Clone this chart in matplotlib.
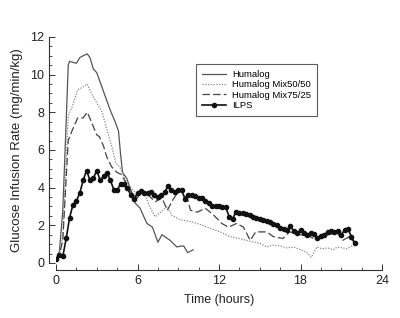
import numpy as np
import matplotlib
matplotlib.use('Agg')
import matplotlib.pyplot as plt
from matplotlib.ticker import MultipleLocator

plt.rcParams['font.family'] = ['Liberation Sans', 'DejaVu Sans']

# Humalog (solid)
hum_t = [0.0, 0.25, 0.5, 0.75, 0.9, 1.0, 1.25, 1.5, 1.75, 2.0, 2.3, 2.5, 2.75, 3.0, 3.5, 4.0,
         4.35, 4.6, 4.75, 4.9, 5.2, 5.5, 5.8, 6.2, 6.5, 6.7, 7.1, 7.5, 7.8, 8.1, 8.4, 8.9,
         9.2, 9.4, 9.7, 10.1]
hum_v = [0.2, 0.6, 2.8, 7.5, 10.5, 10.7, 10.65, 10.6, 10.9, 11.0, 11.1, 10.9, 10.3, 10.1, 9.1, 8.1,
         7.5, 7.0, 5.8, 4.8, 4.5, 3.9, 3.2, 2.9, 2.4, 2.1, 1.9, 1.1, 1.5, 1.35, 1.2, 0.85,
         0.9, 0.9, 0.55, 0.7]

# Humalog Mix50/50 (dotted)
mix50_t = [0, 0.25, 0.5, 0.75, 0.9, 1.2, 1.6, 1.9, 2.3, 2.6, 3.0, 3.4, 3.7, 4.1, 4.4, 4.7, 5.1,
           5.5, 6.0, 6.4, 6.9, 7.3, 7.7, 8.2, 8.5, 9.1, 9.9, 10.6, 11.3, 12.1, 12.8, 13.5,
           14.3, 15.0, 15.5, 16.0, 16.5, 17.0, 17.5, 18.0, 18.4, 18.8, 19.2, 19.6, 20.0,
           20.4, 20.7, 21.1, 21.4, 21.9]
mix50_v = [0.2, 0.4, 1.5, 5.5, 7.8, 8.3, 9.2, 9.3, 9.5, 9.0, 8.5, 8.0, 7.2, 6.2, 5.3, 5.1, 4.4,
           4.0, 3.6, 3.9, 3.0, 2.45, 2.7, 3.0, 2.55, 2.3, 2.2, 2.05, 1.85, 1.65, 1.4, 1.3,
           1.15, 1.05, 0.85, 0.95, 0.9, 0.8, 0.85, 0.7, 0.6, 0.3, 0.85, 0.75, 0.8,
           0.7, 0.85, 0.8, 0.75, 0.95]

# Humalog Mix75/25 (dashed)
mix75_t = [0, 0.25, 0.5, 0.75, 0.9, 1.2, 1.6, 2.0, 2.3, 2.6, 3.0, 3.2, 3.5, 3.75, 4.1, 4.5, 4.8,
           5.2, 5.6, 6.0, 6.3, 6.8, 7.3, 7.8, 8.2, 8.6, 9.1, 9.7, 9.9, 10.4, 11.0, 11.6,
           12.2, 12.7, 13.3, 13.8, 14.3, 14.7, 15.5, 16.0, 16.7, 17.2, 18.0, 18.7, 19.2,
           20.0, 20.7, 21.1, 21.6, 22.0]
mix75_v = [0.2, 0.4, 1.2, 4.5, 6.5, 7.05, 7.7, 7.7, 8.0, 7.5, 6.8, 6.7, 6.2, 5.6, 5.1, 4.8, 4.7,
           4.2, 3.7, 3.45, 3.9, 3.6, 3.25, 3.45, 2.8, 3.35, 3.9, 3.35, 2.8, 2.7, 2.9, 2.55,
           2.1, 1.9, 2.1, 1.9, 1.2, 1.65, 1.65, 1.4, 1.3, 1.65, 1.5, 1.4, 1.2,
           1.5, 1.6, 1.2, 1.4, 1.05]

# ILPS (every 15 min, 0 - 22 h)
ilps_v = [0.2, 0.4, 0.35, 1.3, 2.4, 3.1, 3.3, 3.7, 4.4, 4.9, 4.4, 4.5, 4.9, 4.4, 4.6, 4.8,
          4.4, 3.9, 3.85, 4.2, 4.2, 4.0, 3.6, 3.4, 3.7, 3.8, 3.7, 3.7, 3.75, 3.6, 3.5, 3.6,
          3.75, 4.1, 3.9, 3.75, 3.9, 3.85, 3.4, 3.6, 3.6, 3.55, 3.45, 3.45, 3.3, 3.2, 3.05, 3.0,
          3.0, 2.95, 2.95, 2.45, 2.35, 2.7, 2.65, 2.65, 2.6, 2.55, 2.45, 2.4, 2.35, 2.3, 2.25, 2.2,
          2.05, 2.0, 1.85, 1.8, 1.75, 1.95, 1.7, 1.6, 1.75, 1.6, 1.5, 1.6, 1.55, 1.3, 1.45, 1.5,
          1.65, 1.7, 1.65, 1.7, 1.5, 1.75, 1.8, 1.4, 1.05]
ilps_t = np.arange(len(ilps_v)) * 0.25

fig = plt.figure(figsize=(4.0, 3.18), dpi=100)
ax = fig.add_axes([0.14, 0.173, 0.815, 0.711])

ax.plot(hum_t, hum_v, color='#555555', lw=0.9, ls='-', label='Humalog')
ax.plot(mix50_t, mix50_v, color='#888888', lw=0.9, ls=(0, (1, 1.2)), label='Humalog Mix50/50')
ax.plot(mix75_t, mix75_v, color='#444444', lw=0.9, ls=(0, (6, 2.5)), label='Humalog Mix75/25')
ax.plot(ilps_t, ilps_v, color='#111111', lw=1.2, marker='o', ms=3.0, label='ILPS')

ax.set_xlim(0, 24)
ax.set_ylim(0, 12)
ax.xaxis.set_major_locator(MultipleLocator(6))
ax.xaxis.set_minor_locator(MultipleLocator(1.5))
ax.yaxis.set_major_locator(MultipleLocator(2))
ax.yaxis.set_minor_locator(MultipleLocator(0.5))

for s in ['top', 'right']:
    ax.spines[s].set_visible(False)
ax.spines['left'].set_position(('outward', 5))
ax.spines['bottom'].set_position(('outward', 5))
for s in ['left', 'bottom']:
    ax.spines[s].set_color('#333333')
    ax.spines[s].set_linewidth(0.8)

ax.tick_params(which='major', direction='in', length=4, width=0.7, color='#333333',
               labelsize=9, labelcolor='#222222')
ax.tick_params(which='minor', direction='in', length=2.5, width=0.6, color='#333333')

ax.set_xlabel('Time (hours)', fontsize=9, color='#222222', labelpad=5)
ax.set_ylabel('Glucose Infusion Rate (mg/min/kg)', fontsize=9.5, color='#222222', labelpad=5)

leg = ax.legend(loc='upper left', bbox_to_anchor=(0.415, 0.9), fontsize=6.8,
                frameon=True, fancybox=False, handlelength=2.6, borderpad=0.6,
                labelspacing=0.15, handletextpad=0.6)
leg.get_frame().set_edgecolor('#333333')
leg.get_frame().set_linewidth(0.8)

fig.savefig('out.png', dpi=100)
